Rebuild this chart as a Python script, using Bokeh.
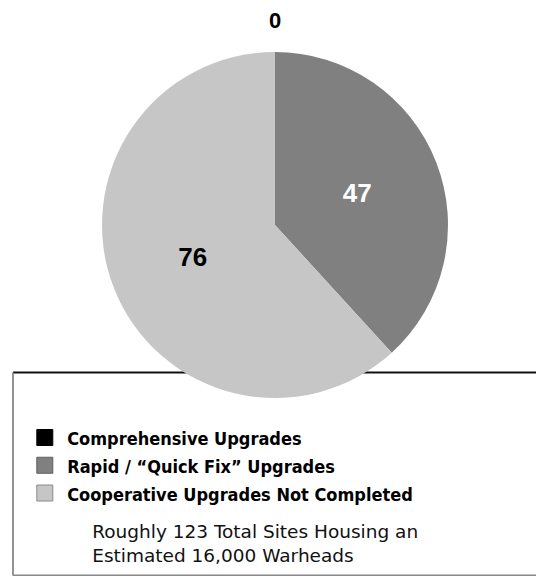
import math
from bokeh.plotting import figure
from bokeh.models import Range1d, ColumnDataSource
from bokeh.core.properties import value
from bokeh.embed import file_html
from bokeh.resources import INLINE

# ---- data ----
categories = ["Comprehensive Upgrades",
              "Rapid / \u201cQuick Fix\u201d Upgrades",
              "Cooperative Upgrades Not Completed"]
site_counts = [0, 47, 76]
note_lines = ["Roughly 123 Total Sites Housing an",
              "Estimated 16,000 Warheads"]

# ---- style ----
slice_colors = ["#000000", "#808080", "#c6c6c6"]
label_colors = ["#000000", "#ffffff", "#000000"]
square_borders = ["#000000", "#606060", "#8a8a8a"]

W, H = 536, 576
p = figure(width=W, height=H, x_range=Range1d(0, W), y_range=Range1d(0, H),
           output_backend="svg", toolbar_location=None, min_border=0,
           x_axis_location=None, y_axis_location=None)
p.grid.visible = False
p.outline_line_color = None
p.background_fill_color = "white"

# ---- legend box (drawn under the pie) ----
box_top = 204
box_left = 12.5
p.line([box_left, W], [box_top, box_top], line_color="#111111", line_width=1.8)
p.line([box_left, box_left], [box_top, 1], line_color="#888888", line_width=1.8)
p.line([box_left, W], [1.2, 1.2], line_color="#888888", line_width=1.6)

# ---- pie ----
cx, cy, R = 274.5, 351.5, 173
total = sum(site_counts)
starts, ends, mids = [], [], []
acc = 0.0
for v in site_counts:
    a0 = math.pi / 2 - 2 * math.pi * acc / total
    acc += v
    a1 = math.pi / 2 - 2 * math.pi * acc / total
    starts.append(a0)
    ends.append(a1)
    mids.append((a0 + a1) / 2)

idx = [i for i, v in enumerate(site_counts) if v > 0]
wsrc = ColumnDataSource(dict(
    x=[cx] * len(idx), y=[cy] * len(idx),
    start=[starts[i] for i in idx], end=[ends[i] for i in idx],
    color=[slice_colors[i] for i in idx]))
p.wedge(x="x", y="y", radius=R, start_angle="start", end_angle="end",
        direction="clock", fill_color="color", line_color=None, source=wsrc)

# ---- slice labels ----
lx, ly, lt, lc, ls = [], [], [], [], []
for i, v in enumerate(site_counts):
    r = 0.51 * R if v > 0 else R + 31.5
    lx.append(cx + r * math.cos(mids[i]))
    ly.append(cy + r * math.sin(mids[i]))
    lt.append(str(v))
    lc.append(label_colors[i])
    ls.append("26px" if v > 0 else "22px")
lsrc = ColumnDataSource(dict(x=lx, y=ly, t=lt, c=lc, s=ls))
p.text(x="x", y="y", text="t", text_color="c", text_font_size="s",
       text_font=value("Liberation Sans"), text_font_style="bold",
       text_align="center", text_baseline="middle", source=lsrc)

# ---- legend ----
row0, step = 139.0, 27.75
sq_x = 44.3
rows_y = [row0 - k * step for k in range(len(categories))]
p.rect(x=[sq_x] * len(categories), y=rows_y, width=16, height=16,
       width_units="screen", height_units="screen",
       fill_color=slice_colors, line_color=square_borders, line_width=1)
p.text(x=[66.7] * len(categories), y=[yy - 1 for yy in rows_y], text=categories,
       text_font=value("DejaVu Sans Condensed"), text_font_style="bold",
       text_font_size="18px", text_color="#000000",
       text_align="left", text_baseline="middle")

# ---- note ----
p.text(x=[91.7] * len(note_lines), y=[45.3 - k * 23.8 for k in range(len(note_lines))],
       text=note_lines, text_font=value("DejaVu Sans"), text_font_size="18.5px",
       text_color="#111111", text_align="left", text_baseline="middle")

open("out.html", "w").write(file_html(p, INLINE))
